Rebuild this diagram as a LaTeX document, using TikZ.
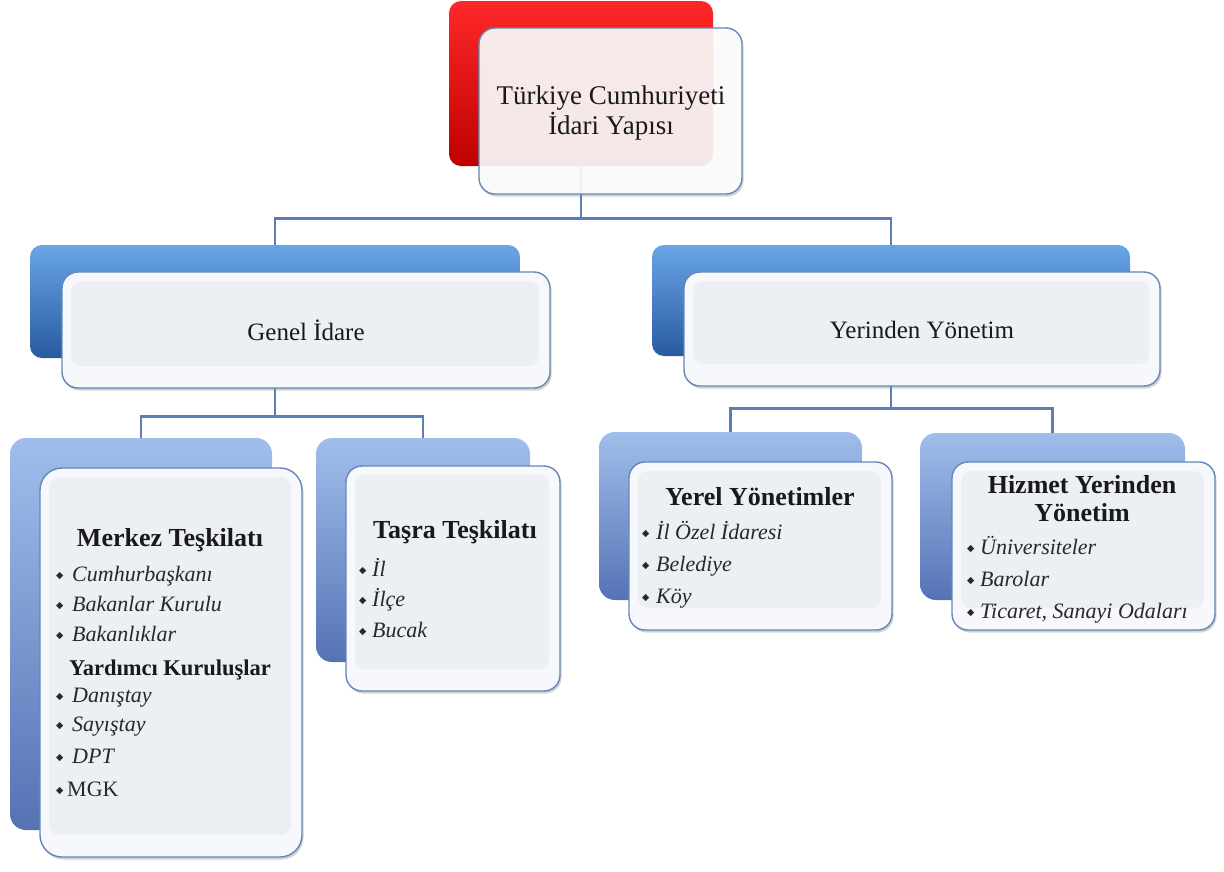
\documentclass[tikz,border=0pt]{standalone}
\usepackage{fontspec}
\setmainfont{Liberation Serif}
\newfontfamily\dvs{DejaVu Sans}
\usetikzlibrary{fit,shadows}
\pgfdeclarelayer{bg}
\pgfsetlayers{bg,main}
\definecolor{conncol}{RGB}{91,127,181}
\definecolor{framecol}{RGB}{100,135,185}
\definecolor{frontcol}{RGB}{247,248,251}
\definecolor{innercol}{RGB}{236,239,243}
\definecolor{txtcol}{RGB}{25,25,25}
\definecolor{itmcol}{RGB}{40,40,40}
\definecolor{redT}{RGB}{255,40,40}
\definecolor{redM}{RGB}{245,0,0}
\definecolor{redB}{RGB}{190,0,0}
\definecolor{blAT}{RGB}{105,165,230}
\definecolor{blAM}{RGB}{65,125,200}
\definecolor{blAB}{RGB}{40,90,160}
\definecolor{blBT}{RGB}{160,190,235}
\definecolor{blBM}{RGB}{125,158,218}
\definecolor{blBB}{RGB}{85,115,180}
\newcommand\bul{{\dvs\fontsize{9.5}{9.5}\selectfont\raisebox{2.5pt}{◆}}}
\tikzset{
  backbox/.style={draw=none, rounded corners=12pt, inner sep=0pt},
  redback/.style={backbox, top color=redT, middle color=redM, bottom color=redB},
  blueA/.style={backbox, top color=blAT, middle color=blAM, bottom color=blAB},
  blueB/.style={backbox, rounded corners=16pt, top color=blBT, middle color=blBM, bottom color=blBB},
  frontbase/.style={draw=framecol, line width=1.4pt, rounded corners=16pt, inner sep=0pt,
    drop shadow={shadow xshift=1.5pt, shadow yshift=-2.5pt, opacity=0.35, fill=gray}},
  frontbox/.style={frontbase, fill=frontcol,
    path picture={\fill[innercol, rounded corners=10pt]
      ([shift={(9pt,-9pt)}]path picture bounding box.north west) rectangle
      ([shift={(-11pt,22pt)}]path picture bounding box.south east);}},
  topfront/.style={frontbase, fill=white, fill opacity=0.89},
  conn/.style={draw=conncol, line width=2.6pt},
  ttl/.style={font=\fontsize{25}{28}\selectfont, text=txtcol, inner sep=0pt},
  btl/.style={font=\bfseries\fontsize{26}{28}\selectfont, text=txtcol, inner sep=0pt, align=center},
  itm/.style={font=\itshape\fontsize{22}{26}\selectfont, text=itmcol, inner sep=0pt, anchor=base west},
  upr/.style={font=\fontsize{22}{26}\selectfont, text=itmcol, inner sep=0pt, anchor=base west},
}
\begin{document}
\begin{tikzpicture}[x=1pt,y=-1pt]
\useasboundingbox (0,0) rectangle (1224,871);

% top box
\node[redback, fit={(449,1) (713,166)}] (topB) {};
\node[topfront, fit={(479,28) (742,194)}] (topF) {};
\node[ttl, font=\fontsize{27}{30}\selectfont, align=center] (topT) at (611,113) {Türkiye Cumhuriyeti\\İdari Yapısı};

% level 1
\node[blueA, fit={(30,245) (520,358)}] (genB) {};
\node[frontbox, fit={(62,272) (550,388)}] (genF) {};
\node[ttl] (genT) at (306,330) {Genel İdare};

\node[blueA, fit={(652,245) (1130,356)}] (yerB) {};
\node[frontbox, fit={(684,272) (1160,386)}] (yerF) {};
\node[ttl] (yerT) at (922,330) {Yerinden Yönetim};

% level 2
\node[blueB, fit={(10,438) (272,830)}] (merB) {};
\node[frontbox, rounded corners=22pt, fit={(40,468) (302,857)}] (merF) {};
\node[btl, anchor=base] (merT) at (170,546) {Merkez Teşkilatı};
\node[itm] (m1) at (56,581) {\makebox[16pt][l]{\bul}Cumhurbaşkanı};
\node[itm] (m2) at (56,611) {\makebox[16pt][l]{\bul}Bakanlar Kurulu};
\node[itm] (m3) at (56,641) {\makebox[16pt][l]{\bul}Bakanlıklar};
\node[btl, anchor=base, font=\bfseries\fontsize{22.5}{26}\selectfont] (merY) at (170,675) {Yardımcı Kuruluşlar};
\node[itm] (m4) at (56,702) {\makebox[16pt][l]{\bul}Danıştay};
\node[itm] (m5) at (56,731) {\makebox[16pt][l]{\bul}Sayıştay};
\node[itm] (m6) at (56,763) {\makebox[16pt][l]{\bul}DPT};
\node[upr] (m7) at (56,796) {\makebox[11pt][l]{\bul}MGK};

\node[blueB, fit={(316,438) (530,662)}] (tasB) {};
\node[frontbox, fit={(346,466) (560,691)}] (tasF) {};
\node[btl, anchor=base] (tasT) at (455,538) {Taşra Teşkilatı};
\node[itm] (t1) at (359,576) {\makebox[13pt][l]{\bul}İl};
\node[itm] (t2) at (359,606) {\makebox[13pt][l]{\bul}İlçe};
\node[itm] (t3) at (359,637) {\makebox[13pt][l]{\bul}Bucak};

\node[blueB, fit={(599,432) (862,600)}] (yrlB) {};
\node[frontbox, fit={(629,462) (892,630)}] (yrlF) {};
\node[btl, anchor=base] (yrlT) at (760,505) {Yerel Yönetimler};
\node[itm] (y1) at (642,539) {\makebox[14pt][l]{\bul}İl Özel İdaresi};
\node[itm] (y2) at (642,571) {\makebox[14pt][l]{\bul}Belediye};
\node[itm] (y3) at (642,603) {\makebox[14pt][l]{\bul}Köy};

\node[blueB, fit={(920,433) (1185,600)}] (hizB) {};
\node[frontbox, fit={(952,462) (1215,630)}] (hizF) {};
\node[btl] (hizT) at (1082,499) {Hizmet Yerinden\\Yönetim};
\node[itm] (h1) at (967,554) {\makebox[13pt][l]{\bul}Üniversiteler};
\node[itm] (h2) at (967,586) {\makebox[13pt][l]{\bul}Barolar};
\node[itm] (h3) at (967,618) {\makebox[13pt][l]{\bul}Ticaret, Sanayi Odaları};

% connectors and page background
\begin{pgfonlayer}{bg}
\fill[white] (0,0) rectangle (1224,871);
\path (topB.south) ++(0,52) coordinate (j1);
\draw[conn] (topB.south) -- (j1) -| (genB.north);
\draw[conn] (j1) -| (yerB.north);
\path (genB.south) ++(0,58) coordinate (j2);
\draw[conn] (genB.south) -- (j2) -| (merB.north);
\draw[conn] (j2) -| (tasB.north);
\path (yerB.south) ++(0,52) coordinate (j3);
\draw[conn] (yerB.south) -- (j3) -| (yrlB.north);
\draw[conn] (j3) -| (hizB.north);
\end{pgfonlayer}
\end{tikzpicture}
\end{document}
